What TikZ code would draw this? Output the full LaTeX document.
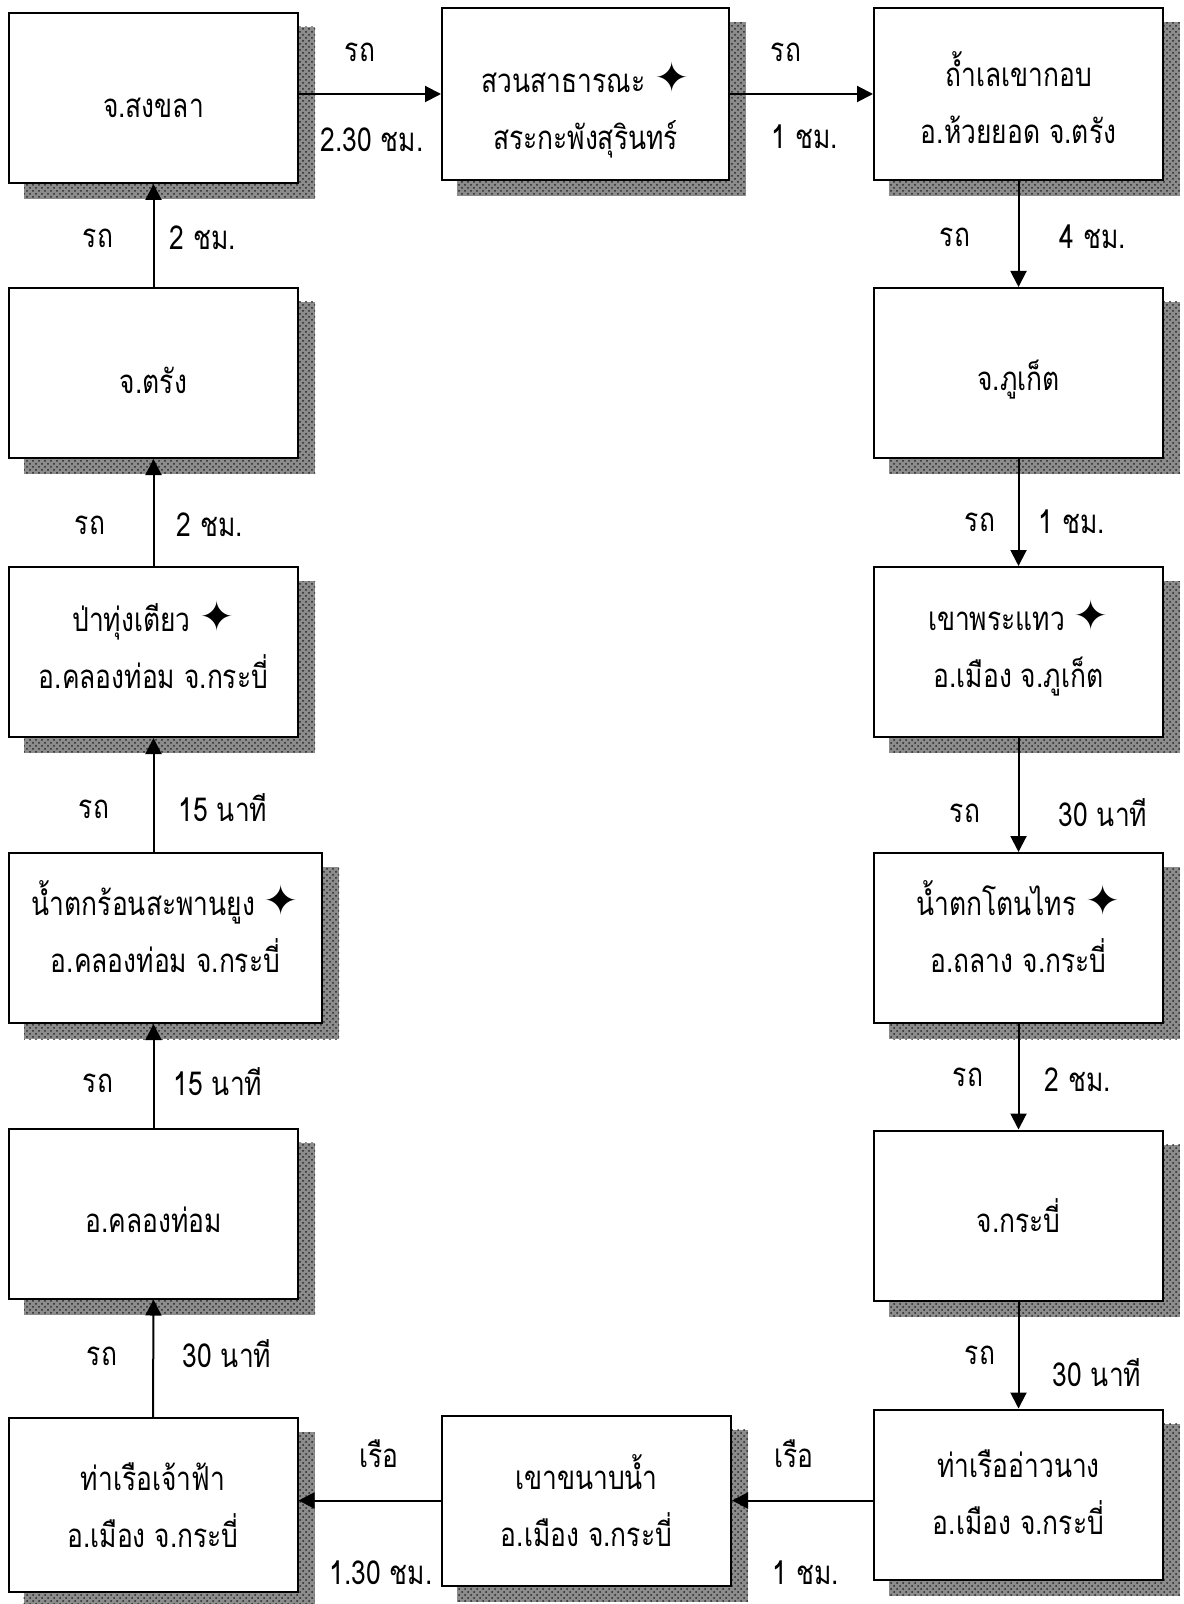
\documentclass[tikz,border=0pt]{standalone}
\usepackage{fontspec}
\newfontfamily\thaifont[Script=Thai,FakeStretch=0.8]{Loma}
\newfontfamily\symfont{DejaVu Sans}
\usepackage{tikz}
\usetikzlibrary{arrows.meta,positioning,calc,backgrounds,patterns}
\tikzset{
  >={Triangle[length=8pt,width=8pt]},
  top room/.initial=20pt,
  bottom room/.initial=0pt,
  stop/.style={draw,line width=1pt,fill=white,minimum width=144.5pt,minimum height=85pt,inner sep=2pt,align=center,
    font=\thaifont\fontsize{16.5}{28.5}\selectfont,
    execute at begin node={\rule{0pt}{\pgfkeysvalueof{/tikz/top room}}},
    execute at end node={\rule[-\pgfkeysvalueof{/tikz/bottom room}]{0pt}{\pgfkeysvalueof{/tikz/bottom room}}}},
  wstop/.style={stop,minimum width=156.5pt},
  way/.style={->,line width=1pt},
  lbl/.style={font=\thaifont\fontsize{16.5}{20}\selectfont,inner sep=0pt},
  shd/.style={fill=black!45,postaction={pattern=crosshatch dots,pattern color=black!85}},
}
\newcommand{\spot}{{\symfont\fontsize{21}{21}\selectfont ✦}}
\newcommand{\gap}[1]{\rule{0pt}{#1}}

\begin{document}
\begin{tikzpicture}[x=0.5pt,y=-0.5pt]
  \useasboundingbox (0,0) rectangle (1183,1604);
  % left column
  \node[stop] (songkhla) at (153.5,98) {จ.สงขลา};
  \node[stop,top room=21pt] (trang) at (153.5,373) {จ.ตรัง};
  \node[stop,bottom room=8pt] (pa) at (153.5,652) {ป่าทุ่งเตียว \spot\\อ.คลองท่อม จ.กระบี่};
  \node[wstop,bottom room=11pt] (namtok) at (165.5,938) {น้ำตกร้อนสะพานยูง \spot\\อ.คลองท่อม จ.กระบี่};
  \node[stop,top room=19pt] (klong) at (153.5,1213.5) {อ.คลองท่อม};
  \node[stop,minimum height=87pt] (chaofa) at (153,1505) {ท่าเรือเจ้าฟ้า\\อ.เมือง จ.กระบี่};
  % middle
  \node[stop,minimum width=143.5pt,minimum height=86pt] (suan) at (585.5,94) {\gap{31pt}สวนสาธารณะ \spot\\สระกะพังสุรินทร์};
  \node[stop] (khanap) at (586.5,1500.5) {เขาขนาบน้ำ\\อ.เมือง จ.กระบี่};
  % right column
  \node[stop,minimum height=86pt] (tham) at (1018.5,94) {\gap{21pt}ถ้ำเลเขากอบ\\อ.ห้วยยอด จ.ตรัง};
  \node[stop,top room=22pt] (phuket) at (1018.5,373) {จ.ภูเก็ต};
  \node[stop,bottom room=9pt] (phra) at (1018.5,652) {เขาพระแทว \spot\\อ.เมือง จ.ภูเก็ต};
  \node[stop,bottom room=11pt] (ton) at (1018.5,938) {น้ำตกโตนไทร \spot\\อ.ถลาง จ.กระบี่};
  \node[stop,top room=17pt] (krabi) at (1018.5,1215.5) {จ.กระบี่};
  \node[stop,bottom room=2pt] (aonang) at (1018.5,1494.5) {ท่าเรืออ่าวนาง\\อ.เมือง จ.กระบี่};

  % shadows
  \begin{scope}[on background layer]
    \foreach \n in {songkhla,trang,pa,namtok,klong,chaofa,suan,khanap,tham,phuket,phra,ton,krabi,aonang}
      \fill[shd] ($(\n.north west)+(16,15)$) rectangle ($(\n.south east)+(16,15)$);
  \end{scope}

  % connectors
  \draw[way] (songkhla.east |- suan.west) -- (suan.west);
  \draw[way] (suan.east) -- (tham.west);
  \draw[way] (tham.south) -- (phuket.north);
  \draw[way] (phuket.south) -- (phra.north);
  \draw[way] (phra.south) -- (ton.north);
  \draw[way] (ton.south) -- (krabi.north);
  \draw[way] (krabi.south) -- (aonang.north);
  \draw[way] (aonang.west |- khanap.east) -- (khanap.east);
  \draw[way] (khanap.west) -- (chaofa.east |- khanap.west);
  \draw[way] (chaofa.north) -- (klong.south);
  \draw[way] (klong.north) -- (klong.north |- namtok.south);
  \draw[way] (namtok.north -| pa.south) -- (pa.south);
  \draw[way] (pa.north) -- (trang.south);
  \draw[way] (trang.north) -- (songkhla.south);

  % labels
  \node[lbl] (v1) at (360,52) {รถ};
  \node[lbl] (d1) at (372,140) {2.30 ชม.};
  \node[lbl] (v2) at (786,52) {รถ};
  \node[lbl] (d2) at (805,137) {1 ชม.};
  \node[lbl] (v3) at (955,237) {รถ};
  \node[lbl] (d3) at (1093,237) {4 ชม.};
  \node[lbl] (v4) at (980,522) {รถ};
  \node[lbl] (d4) at (1072,522) {1 ชม.};
  \node[lbl] (v5) at (965,813) {รถ};
  \node[lbl] (d5) at (1103,813) {30 นาที};
  \node[lbl] (v6) at (968,1077) {รถ};
  \node[lbl] (d6) at (1078,1080) {2 ชม.};
  \node[lbl] (v7) at (980,1355) {รถ};
  \node[lbl] (d7) at (1097,1373) {30 นาที};
  \node[lbl] (v8) at (794,1454) {เรือ};
  \node[lbl] (d8) at (806,1573) {1 ชม.};
  \node[lbl] (v9) at (379,1454) {เรือ};
  \node[lbl] (d9) at (381,1573) {1.30 ชม.};
  \node[lbl] (v10) at (102,1356) {รถ};
  \node[lbl] (d10) at (227,1354) {30 นาที};
  \node[lbl] (v11) at (98,1083) {รถ};
  \node[lbl] (d11) at (218,1082) {15 นาที};
  \node[lbl] (v12) at (94,809) {รถ};
  \node[lbl] (d12) at (223,808) {15 นาที};
  \node[lbl] (v13) at (90,525) {รถ};
  \node[lbl] (d13) at (210,525) {2 ชม.};
  \node[lbl] (v14) at (98,238) {รถ};
  \node[lbl] (d14) at (203,238) {2 ชม.};
\end{tikzpicture}
\end{document}
